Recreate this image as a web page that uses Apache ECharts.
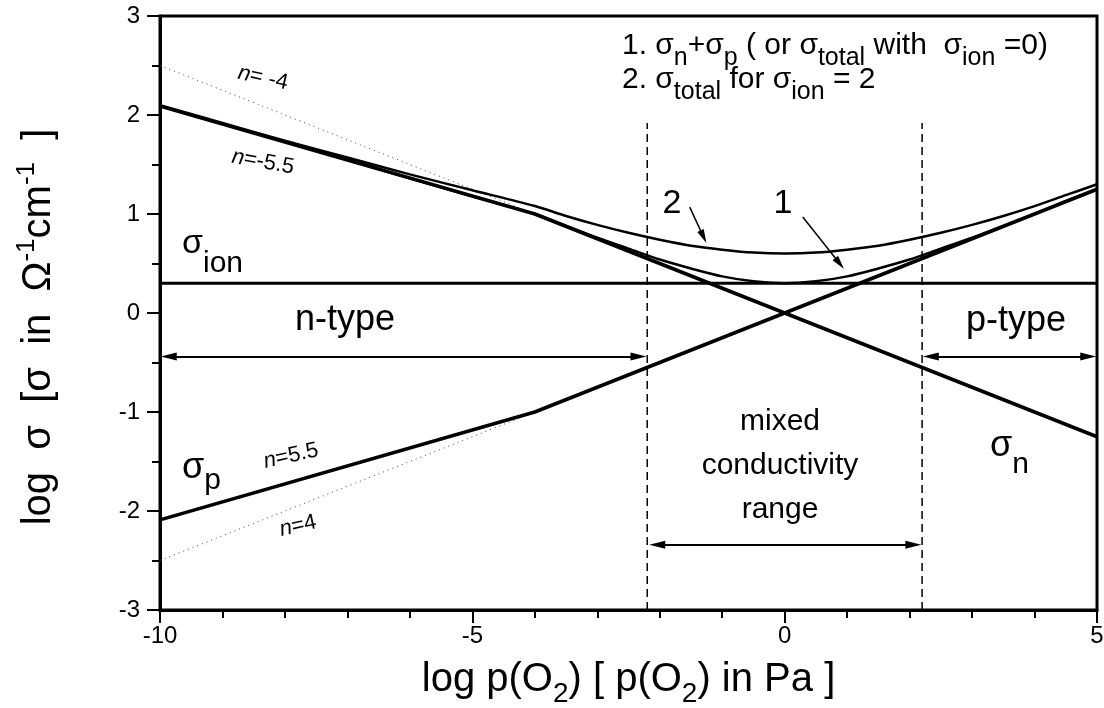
<!DOCTYPE html>
<html><head><meta charset="utf-8">
<script src="https://cdn.jsdelivr.net/npm/echarts@6/dist/echarts.min.js"></script>
<style>html,body{margin:0;padding:0;background:#fff}#c{width:1104px;height:708px}</style>
</head><body><div id="c"></div>
<script>
// ---- data ----
const xKnots = [-10, -4, 5];
const sigmaN = [2.09, 1.00, -1.25];
const sigmaP = [-2.09, -1.00, 1.25];
const extX = [-10, -4];
const extN4 = [2.50, 1.00];
const extP4 = [-2.50, -1.00];
const ionX = [-10, 5];
const sigmaIon = [0.30, 0.30];
const totX   = [-10, -9, -8, -7, -6, -5, -4, -3.5, -3, -2.5, -2, -1.5, -1, -0.5, 0, 0.5, 1, 1.5, 2, 2.5, 3, 3.5, 4, 4.5, 5];
const total1 = [2.09, 1.91, 1.73, 1.55, 1.36, 1.18, 1.00, 0.88, 0.76, 0.65, 0.54, 0.45, 0.37, 0.32, 0.30, 0.32, 0.37, 0.45, 0.54, 0.65, 0.76, 0.88, 1.00, 1.13, 1.25];
const total2 = [2.10, 1.92, 1.74, 1.57, 1.40, 1.24, 1.08, 0.98, 0.89, 0.81, 0.74, 0.68, 0.64, 0.61, 0.60, 0.61, 0.64, 0.68, 0.74, 0.81, 0.89, 0.98, 1.08, 1.19, 1.30];
const rangeX = [-2.2, 2.2];
const rangeY = [-3, 1.92];
const xTickLabels = [-10, -5, 0, 5];
const yTickLabels = [-3, -2, -1, 0, 1, 2, 3];

const FONT = '"Liberation Sans", Arial, sans-serif';
const pts = (xs, ys) => xs.map((x, i) => [x, ys[i]]);

const chart = echarts.init(document.getElementById('c'), null, {renderer: 'canvas'});

const lineSeries = (name, xs, ys, w, extra) => Object.assign({
  name, type: 'line', data: pts(xs, ys), showSymbol: false, symbol: 'none',
  lineStyle: {color: '#000', width: w}, silent: true, animation: false, z: 3
}, extra || {});

const arrowStyle = {color: '#000', width: 2, type: 'solid'};
const series = [
  lineSeries('extN', extX, extN4, 1, {lineStyle: {color: '#444', width: 1, type: [1, 4]}}),
  lineSeries('extP', extX, extP4, 1, {lineStyle: {color: '#444', width: 1, type: [1, 4]}}),
  lineSeries('sigmaN', xKnots, sigmaN, 3.5),
  lineSeries('sigmaP', xKnots, sigmaP, 3.5),
  lineSeries('total1', totX, total1, 2.5, {smooth: 0.3}),
  lineSeries('total2', totX, total2, 2.5, {smooth: 0.3}),
  lineSeries('sigmaIon', ionX, sigmaIon, 3, {
    markLine: {
      silent: true, animation: false, symbol: ['triangle', 'triangle'], symbolSize: [8, 16],
      label: {show: false}, lineStyle: arrowStyle,
      data: [
        [{coord: [-9.86, -0.44]}, {coord: [-2.34, -0.44]}],
        [{coord: [2.34, -0.44]}, {coord: [4.86, -0.44]}],
        [{coord: [-2.04, -2.34]}, {coord: [2.06, -2.34]}]
      ]
    }
  }),
  lineSeries('range1', [rangeX[0], rangeX[0]], rangeY, 1.5, {lineStyle: {color: '#000', width: 1.5, type: [8, 5]}}),
  lineSeries('range2', [rangeX[1], rangeX[1]], rangeY, 1.5, {lineStyle: {color: '#000', width: 1.5, type: [8, 5]},
    markLine: {
      silent: true, animation: false, symbol: ['none', 'triangle'], symbolSize: [7, 14],
      label: {show: false}, lineStyle: {color: '#000', width: 1.5, type: 'solid'},
      data: [
        [{coord: [-1.52, 1.07]}, {coord: [-1.30, 0.77]}],
        [{coord: [0.29, 0.97]}, {coord: [0.88, 0.50]}]
      ]
    }
  })
];

const M = 30, S = 25;
const txt = (x, y, text, rich, extra) => ({
  type: 'text', x, y, silent: true, z: 10,
  style: Object.assign({text, rich, fill: '#000', font: M + 'px ' + FONT, align: 'left', verticalAlign: 'middle'}, extra || {})
});
const legRich = {
  m: {fontSize: M, fontFamily: FONT, color: '#000'},
  s: {fontSize: S, fontFamily: FONT, color: '#000', padding: [24, 0, 0, 0]}
};
const pRich = {
  m: {fontSize: 36, fontFamily: FONT, color: '#000'},
  s: {fontSize: 30, fontFamily: FONT, color: '#000', padding: [26, 0, 0, 0]}
};
const nnRich = {
  m: {fontSize: 36, fontFamily: FONT, color: '#000'},
  s: {fontSize: 30, fontFamily: FONT, color: '#000', padding: [38, 0, 0, 0]}
};
const ionRich = {
  m: {fontSize: 34, fontFamily: FONT, color: '#000'},
  s: {fontSize: 30, fontFamily: FONT, color: '#000', padding: [40, 0, 0, 0]}
};
const nRich = {
  i: {fontSize: 22, fontFamily: FONT, fontStyle: 'italic', color: '#000'},
  m: {fontSize: 22, fontFamily: FONT, color: '#000'}
};

const graphics = [
  txt(622, 46, '{m|1. σ}{s|n}{m|+σ}{s|p}{m| ( or σ}{s|total}{m| with  σ}{s|ion}{m| =0)}', legRich),
  txt(622, 80, '{m|2. σ}{s|total}{m| for σ}{s|ion}{m| = 2}', legRich),
  txt(182, 244, '{m|σ}{s|ion}', ionRich),
  txt(182, 468, '{m|σ}{s|p}', pRich),
  txt(990, 446, '{m|σ}{s|n}', nnRich),
  txt(345, 320, 'n-type', null, {font: '36px ' + FONT, align: 'center'}),
  txt(1016, 321, 'p-type', null, {font: '36px ' + FONT, align: 'center'}),
  txt(780, 466, 'mixed\nconductivity\nrange', null, {font: '30px ' + FONT, align: 'center', lineHeight: 44}),
  txt(672, 204, '2', null, {font: '34px ' + FONT, align: 'center'}),
  txt(783, 204, '1', null, {font: '34px ' + FONT, align: 'center'}),
  Object.assign(txt(263, 78, '{i|n}{m|= -4}', nRich, {align: 'center'}), {rotation: -0.22}),
  Object.assign(txt(263, 162, '{i|n}{m|=-5.5}', nRich, {align: 'center'}), {rotation: -0.18}),
  Object.assign(txt(291, 456, '{i|n}{m|=5.5}', nRich, {align: 'center'}), {rotation: 0.22}),
  Object.assign(txt(298, 526, '{i|n}{m|=4}', nRich, {align: 'center'}), {rotation: 0.22})
];

chart.setOption({
  animation: false,
  backgroundColor: '#fff',
  grid: {left: 160, right: 7, top: 16, bottom: 98, containLabel: false, outerBoundsMode: 'none',
    show: true, borderColor: '#000', borderWidth: 3, backgroundColor: 'transparent'},
  xAxis: {
    type: 'value', min: -10, max: 5, interval: 5,
    axisLine: {show: true, onZero: false, lineStyle: {color: '#000', width: 3}},
    axisTick: {show: true, inside: false, length: 13, lineStyle: {color: '#000', width: 2}},
    minorTick: {show: true, splitNumber: 5, length: 8, lineStyle: {color: '#000', width: 2}},
    splitLine: {show: false}, minorSplitLine: {show: false},
    axisLabel: {color: '#000', fontSize: 24, fontFamily: FONT, margin: 14,
      formatter: v => xTickLabels.indexOf(v) >= 0 ? String(v) : ''},
    name: '{m|log p(O}{s|2}{m|) [ p(O}{s|2}{m|) in Pa ]}',
    nameLocation: 'middle', nameGap: 42,
    nameTextStyle: {color: '#000', rich: {
      m: {fontSize: 40, fontFamily: FONT, color: '#000'},
      s: {fontSize: 28, fontFamily: FONT, color: '#000', padding: [28, 0, 0, 0]}
    }}
  },
  yAxis: {
    type: 'value', min: -3, max: 3, interval: 1,
    axisLine: {show: true, onZero: false, lineStyle: {color: '#000', width: 3}},
    axisTick: {show: true, inside: false, length: 13, lineStyle: {color: '#000', width: 2}},
    minorTick: {show: true, splitNumber: 2, length: 8, lineStyle: {color: '#000', width: 2}},
    splitLine: {show: false}, minorSplitLine: {show: false},
    axisLabel: {color: '#000', fontSize: 24, fontFamily: FONT, margin: 20,
      formatter: v => yTickLabels.indexOf(v) >= 0 ? String(v) : ''},
    name: '{m|log  σ  [σ  in  Ω}{p|-1}{m|cm}{p|-1}{m|  ]}',
    nameLocation: 'middle', nameGap: 96, nameRotate: 90,
    nameTextStyle: {color: '#000', padding: [0, 28, 0, 0], rich: {
      m: {fontSize: 40, fontFamily: FONT, color: '#000'},
      p: {fontSize: 26, fontFamily: FONT, color: '#000', padding: [0, 0, 24, 0]}
    }}
  },
  series,
  graphic: graphics
});
</script></body></html>
